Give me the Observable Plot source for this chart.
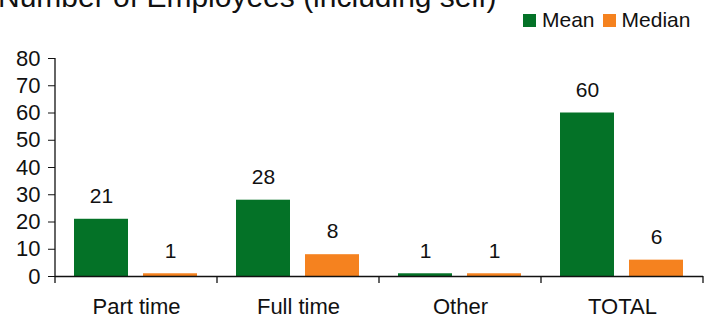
<!DOCTYPE html>
<html>
<head>
<meta charset="utf-8">
<script src="https://cdn.jsdelivr.net/npm/d3@7"></script>
<script src="https://cdn.jsdelivr.net/npm/@observablehq/plot@0.6"></script>
<style>
  html, body { margin: 0; padding: 0; background: #fff; }
  #chart { position: relative; width: 710px; height: 320px; overflow: hidden;
           font-family: "Liberation Sans", Arial, sans-serif; color: #111; }
  .title { position: absolute; left: -2px; top: -18px; font-size: 30px; line-height: 30px; white-space: nowrap; }
  .legend { position: absolute; left: 523px; top: 9px; font-size: 21px; line-height: 21px;
            display: flex; align-items: flex-start; white-space: nowrap; }
  .legend .sw { display: inline-block; width: 13px; height: 13px; margin-top: 5px; margin-right: 6px; }
  .legend .item { display: flex; margin-right: 8px; }
  #plot { position: absolute; left: 0; top: 30px; }
</style>
</head>
<body>
<div id="chart">
  <div class="title">Number of Employees (including self)</div>
  <div class="legend" id="legend"></div>
  <div id="plot"></div>
</div>
<script>
// Employee counts by type, mean and median per respondent
const categories = ["Part time", "Full time", "Other", "TOTAL"];
const seriesNames = ["Mean", "Median"];
const meanValues = [21, 28, 1, 60];
const medianValues = [1, 8, 1, 6];
const yTicks = [0, 10, 20, 30, 40, 50, 60, 70, 80];
const seriesColors = ["#047227", "#f5821f"];

const rows = categories.flatMap((category, i) => [
  {category, series: seriesNames[0], value: meanValues[i]},
  {category, series: seriesNames[1], value: medianValues[i]}
]);

// Legend above the plot
const legend = document.getElementById("legend");
seriesNames.forEach((name, i) => {
  const item = document.createElement("span");
  item.className = "item";
  const sw = document.createElement("span");
  sw.className = "sw";
  sw.style.background = seriesColors[i];
  const label = document.createElement("span");
  label.textContent = name;
  item.append(sw, label);
  legend.append(item);
});

const plot = Plot.plot({
  width: 710,
  height: 290,
  marginTop: 28,
  marginBottom: 44,
  marginLeft: 54,
  marginRight: 7,
  style: {fontFamily: "'Liberation Sans', Arial, sans-serif", fontSize: "22px", color: "#111", background: "transparent", overflow: "visible"},
  fx: {domain: categories, padding: 0, label: null},
  x: {domain: seriesNames, paddingInner: 0.214, paddingOuter: 0.266, axis: null},
  y: {domain: [0, 80], label: null},
  color: {domain: seriesNames, range: seriesColors},
  marks: [
    Plot.axisY({ticks: yTicks, tickSize: 7, tickPadding: 8, label: null}),
    Plot.axisFx({anchor: "bottom", tickSize: 0, tickPadding: 22, label: null}),
    Plot.barY(rows, {fx: "category", x: "series", y: "value", fill: "series"}),
    Plot.ruleY([0], {stroke: "#111", strokeWidth: 1.3}),
    Plot.text(rows, {fx: "category", x: "series", y: "value", text: d => String(d.value), dy: -23, fontSize: 21})
  ]
});

// Category boundary ticks and the vertical value axis line
const fx = plot.scale("fx");
const y = plot.scale("y");
const svg = d3.select(plot);
const bounds = categories.map(c => fx.apply(c)).concat([fx.apply(categories[categories.length - 1]) + fx.bandwidth]);
const y0 = y.apply(0);
const g = svg.append("g").attr("stroke", "#111").attr("stroke-width", 1.3);
g.selectAll("line.bound").data(bounds).join("line")
  .attr("x1", d => d).attr("x2", d => d)
  .attr("y1", y0).attr("y2", y0 + 7);
g.append("line")
  .attr("x1", bounds[0]).attr("x2", bounds[0])
  .attr("y1", y.apply(80)).attr("y2", y0);

document.getElementById("plot").append(plot);
</script>
</body>
</html>
